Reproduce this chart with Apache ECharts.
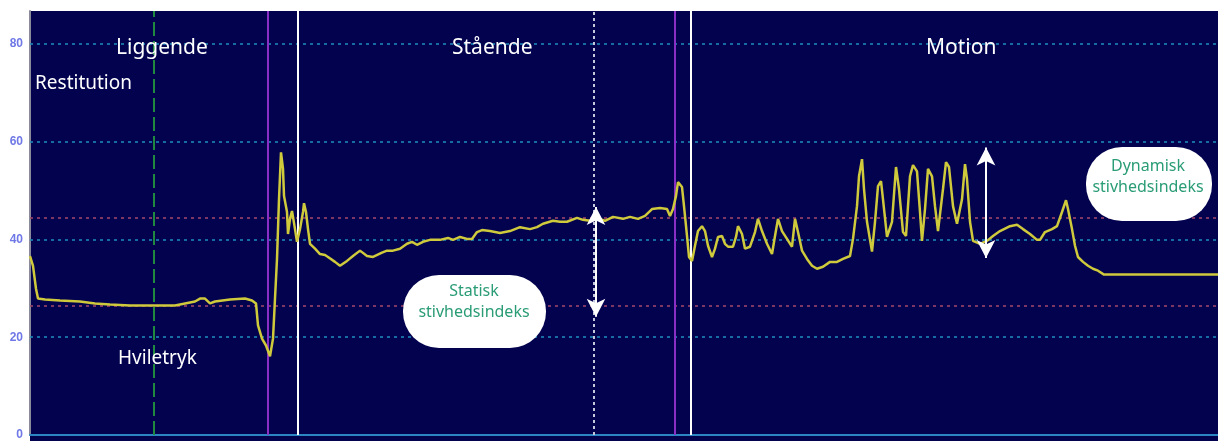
<!DOCTYPE html>
<html>
<head>
<meta charset="utf-8">
<script src="https://cdn.jsdelivr.net/npm/echarts@6/dist/echarts.min.js"></script>
<style>
html,body{margin:0;padding:0;background:#ffffff;}
#chart{width:1218px;height:441px;}
</style>
</head>
<body>
<div id="chart"></div>
<script>
// ---- data (time in arbitrary units, pressure in mmHg) ----
const times = [0,3,6,8,15,30,50,65,80,100,124,145,155,165,170,175,180,185,200,215,222,226,228,232,236,240,241,243,245,247,249,251,253,254,257,258,260,262,263,265,267,270,273,274,276,278,280,285,290,295,298,305,310,317,323,330,337,343,352,357,363,370,377,382,387,393,400,410,418,423,430,437,442,447,452,460,470,480,490,500,507,513,523,530,537,547,553,560,565,570,575,583,593,600,608,615,622,630,637,640,643,646,648,652,654,657,659,662,665,668,672,675,678,682,685,688,692,695,698,703,706,708,712,715,720,725,728,732,737,742,745,748,752,757,762,765,768,772,777,782,787,793,800,807,813,820,823,827,829,832,834,837,842,845,848,851,853,857,862,866,869,873,876,880,883,887,890,892,895,898,902,905,908,913,916,919,923,927,932,935,937,940,943,950,957,963,970,980,987,993,1000,1007,1010,1015,1022,1027,1032,1036,1038,1042,1045,1048,1053,1058,1063,1068,1074,1188];
const pressures = [36.6,34.6,29.9,27.9,27.7,27.5,27.3,26.9,26.7,26.5,26.5,26.5,26.9,27.3,27.9,27.9,26.9,27.3,27.7,27.9,27.5,26.9,22.4,19.7,18.3,16.1,15.9,19.7,27.9,36.0,48.2,57.8,54.4,48.9,45.6,41.1,44.2,45.8,44.6,42.1,39.5,42.1,45.6,47.4,45.6,42.1,39.1,38.1,37.0,36.8,36.4,35.4,34.6,35.6,36.6,37.7,36.6,36.4,37.3,37.7,37.7,38.1,39.1,39.5,38.9,39.5,39.9,39.9,40.3,39.9,40.5,40.1,40.1,41.5,41.9,41.7,41.3,41.7,42.5,42.1,42.5,43.2,43.8,43.6,43.6,44.4,44.0,43.8,44.6,44.2,43.8,44.6,44.2,44.6,44.2,44.8,46.2,46.4,46.2,44.8,46.2,48.9,51.7,50.7,46.8,40.7,36.4,35.6,38.7,41.7,42.7,41.7,38.7,36.4,38.1,40.5,40.7,39.1,38.5,38.5,40.5,42.7,41.1,38.1,38.5,41.5,44.2,41.7,39.1,37.0,40.7,44.2,41.7,40.1,38.5,44.2,41.5,37.7,36.0,34.6,34.0,34.4,35.4,35.4,36.0,36.6,40.1,46.8,52.9,56.4,50.3,43.6,37.5,43.6,50.9,51.9,48.2,40.5,43.6,54.8,50.3,41.5,40.7,52.9,55.2,53.9,45.6,39.7,46.2,54.4,52.9,46.8,41.7,50.3,55.8,54.8,46.8,43.2,48.2,55.4,52.3,43.6,39.7,39.1,39.7,40.7,41.7,42.7,43.0,42.1,41.1,39.9,39.9,41.5,42.1,42.7,45.6,48.0,46.2,42.1,38.7,36.4,35.4,34.6,34.0,33.6,32.8,32.8];

const yTicks = [0, 20, 40, 60, 80];
const gridLevels = [20, 40, 60, 80];
const referenceLevels = [44.4, 26.5];          // statisk niveau / hviletryk
const phaseMarks = { restitution: 124, liggendeEnd: 238, staaendeStart: 268, staticMeasure: 564, staaendeEnd: 645, motionStart: 661 };
const staticIndexArrow = { t: 566, low: 24.2, high: 46.6 };
const dynamicIndexArrow = { t: 956, low: 36.2, high: 58.8 };
const phaseLabels = ['Liggende', 'Stående', 'Motion'];
const noteLabels = ['Restitution', 'Hviletryk'];
const boxLabels = ['Statisk\nstivhedsindeks', 'Dynamisk\nstivhedsindeks'];

const chart = echarts.init(document.getElementById('chart'), null, { renderer: 'canvas' });

const cyanDot = { color: '#1d8fbf', type: [3, 4], width: 1.5 };
const redDot = { color: '#a4486f', type: [3, 4], width: 1.5 };

const markLineData = [];
gridLevels.forEach(v => markLineData.push({ yAxis: v, lineStyle: cyanDot }));
referenceLevels.forEach(v => markLineData.push({ yAxis: v, lineStyle: redDot }));
markLineData.push({ xAxis: phaseMarks.restitution, lineStyle: { color: '#1f8a3f', type: [14, 5], width: 2 } });
markLineData.push({ xAxis: phaseMarks.liggendeEnd, lineStyle: { color: '#8a2fc6', type: 'solid', width: 2 } });
markLineData.push({ xAxis: phaseMarks.staaendeStart, lineStyle: { color: '#ffffff', type: 'solid', width: 2 } });
markLineData.push({ xAxis: phaseMarks.staticMeasure, lineStyle: { color: '#c4c6dc', type: [3, 3], width: 2 } });
markLineData.push({ xAxis: phaseMarks.staaendeEnd, lineStyle: { color: '#8a2fc6', type: 'solid', width: 2 } });
markLineData.push({ xAxis: phaseMarks.motionStart, lineStyle: { color: '#ffffff', type: 'solid', width: 2 } });

const arrowStyle = { color: '#ffffff', type: 'solid', width: 2 };

const big = { fill: '#ffffff', fontSize: 21, fontFamily: 'Noto Sans' };
const mid = { fill: '#ffffff', fontSize: 19, fontFamily: 'Noto Sans' };
const boxText = { fill: '#2a9c76', fontSize: 16, fontFamily: 'Noto Sans', lineHeight: 21, align: 'center', verticalAlign: 'middle' };

const option = {
  animation: false,
  backgroundColor: '#ffffff',
  grid: { left: 30, right: 0, top: 11, bottom: 4 },
  xAxis: {
    type: 'value', min: 0, max: 1188,
    axisLine: { show: true, lineStyle: { color: '#2c86c2', width: 2 } },
    axisTick: { show: false }, axisLabel: { show: false }, splitLine: { show: false }
  },
  yAxis: {
    type: 'value', min: 0, max: 86.7, interval: 20,
    axisLine: { show: true, lineStyle: { color: '#8a8a9a', width: 2 } },
    axisTick: { show: false },
    axisLabel: { color: '#6f78e6', fontSize: 12, fontWeight: 'bold', fontFamily: 'Liberation Sans Narrow, Liberation Sans', margin: 7, showMaxLabel: false,
                 formatter: v => yTicks.includes(v) ? String(v) : '' },
    splitLine: { show: false }
  },
  graphic: [
    { type: 'rect', z: -10, silent: true, shape: { x: 30, y: 11, width: 1188, height: 430 }, style: { fill: '#02024f' } },
    { type: 'text', z: 10, left: 116, top: 38, style: Object.assign({ text: phaseLabels[0] }, big) },
    { type: 'text', z: 10, left: 452, top: 38, style: Object.assign({ text: phaseLabels[1] }, big) },
    { type: 'text', z: 10, left: 926, top: 38, style: Object.assign({ text: phaseLabels[2] }, big) },
    { type: 'text', z: 10, left: 35, top: 74, style: Object.assign({ text: noteLabels[0] }, mid) },
    { type: 'text', z: 10, left: 118, top: 349, style: Object.assign({ text: noteLabels[1] }, mid) },
    { type: 'rect', z: 10, shape: { x: 403, y: 275, width: 143, height: 73, r: 36 }, style: { fill: '#ffffff' } },
    { type: 'text', z: 11, x: 474, y: 302, style: Object.assign({ text: boxLabels[0] }, boxText) },
    { type: 'rect', z: 10, shape: { x: 1086, y: 147, width: 126, height: 74, r: 36 }, style: { fill: '#ffffff' } },
    { type: 'text', z: 11, x: 1148, y: 177, style: Object.assign({ text: boxLabels[1] }, boxText) }
  ],
  series: [
    {
      type: 'line',
      data: times.map((t, i) => [t, pressures[i]]),
      showSymbol: false,
      symbol: 'none',
      z: 5,
      lineStyle: { color: '#cfc93c', width: 2.5 },
      markLine: {
        silent: true, symbol: 'none', label: { show: false }, z: 3,
        data: markLineData
      }
    },
    {
      type: 'line', data: [], z: 8,
      markLine: {
        silent: true, label: { show: false }, symbol: ['arrow', 'arrow'], symbolSize: [14, 18], z: 8,
        data: [
          [{ coord: [staticIndexArrow.t, staticIndexArrow.low], lineStyle: arrowStyle }, { coord: [staticIndexArrow.t, staticIndexArrow.high] }],
          [{ coord: [dynamicIndexArrow.t, dynamicIndexArrow.low], lineStyle: arrowStyle }, { coord: [dynamicIndexArrow.t, dynamicIndexArrow.high] }]
        ]
      }
    }
  ]
};
chart.setOption(option);
</script>
</body>
</html>
